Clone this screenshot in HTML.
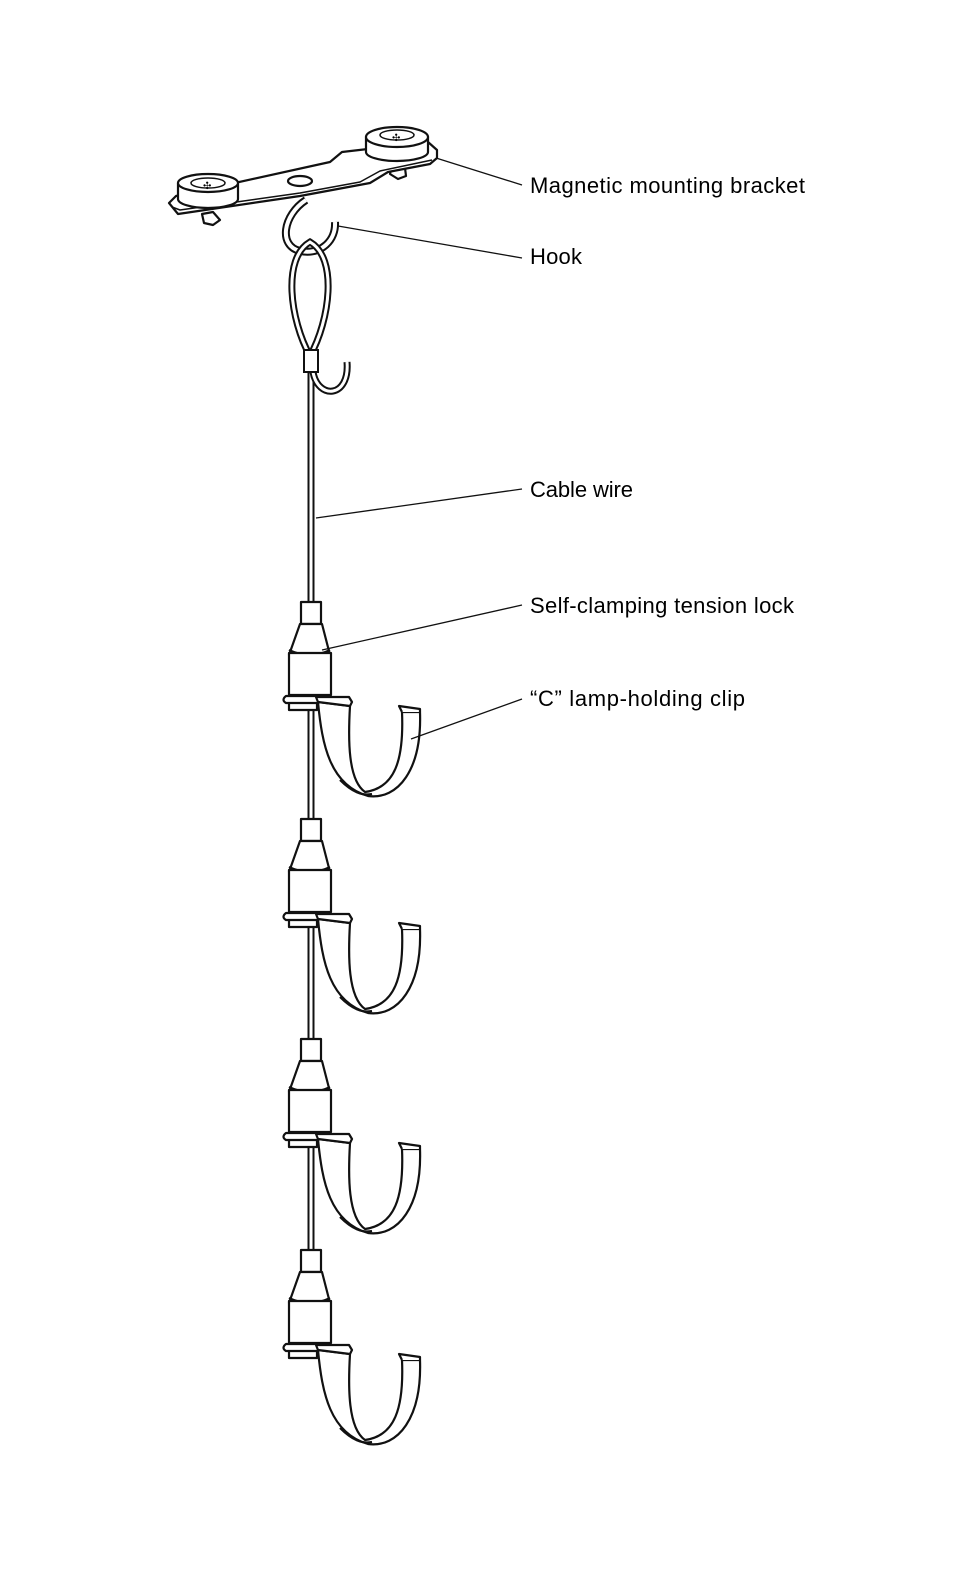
<!DOCTYPE html>
<html><head><meta charset="utf-8"><style>
html,body{margin:0;padding:0;background:#fff}
svg{display:block}
text{font-family:"Liberation Sans",sans-serif;font-size:22px;fill:#000}
</style></head><body>
<svg width="976" height="1569" viewBox="0 0 976 1569" xmlns="http://www.w3.org/2000/svg">
<defs>
<g id="lock" stroke="#111" stroke-width="2.2" fill="#fff" stroke-linejoin="round">
  <rect x="301" y="602" width="20" height="22"/>
  <path d="M300,624 L322,624 L330,655 L289,655 Z"/>
  <path d="M289,650 Q310,660 330,650" fill="none"/>
  <rect x="289" y="653" width="42" height="42"/>
  <rect x="289" y="700" width="28" height="10"/>
  <path d="M286,696 L320,696 L320,703 L286,703 Q281,700 286,696 Z"/>
  <path d="M318,702 C322,745 330,785 368,796 C398,800 422,770 420,712 L402,712 C404,760 395,788 365,792 C348,780 348,740 350,706 Z"/>
  <path d="M318,702 L316,697 L349,697 L352,702 L350,706 Z"/>
  <path d="M402,712 L399,706 L420,709 L420,712" />
  <path d="M340,780 C352,792 362,796 372,794" fill="none"/>
</g>
</defs>

<!-- cable -->
<line x1="311" y1="360" x2="311" y2="1350" stroke="#111" stroke-width="7"/>
<line x1="311" y1="360" x2="311" y2="1350" stroke="#fff" stroke-width="3"/>

<use href="#lock"/>
<use href="#lock" transform="translate(0,217)"/>
<use href="#lock" transform="translate(0,437)"/>
<use href="#lock" transform="translate(0,648)"/>

<!-- bracket -->
<g stroke="#111" stroke-width="2.2" fill="#fff" stroke-linejoin="round">
  <path d="M213,212 L220,220 L213,225 L204,223 L202,214 Z"/>
  <path d="M392,165 L405,168 L406,176 L398,179 L390,174 Z"/>
  <path d="M169,203 L176,196 L330,162 L342,152 L428,142 L437,150 L437,158 L430,164 L388,172 L370,183 L300,196 L178,214 Z"/>
  <path d="M172,207 L180,210 L300,193 L360,182 L380,171 L432,160" fill="none" stroke-width="1.5"/>
  <ellipse cx="300" cy="181" rx="12" ry="5"/>
  <path d="M178,183 L178,199 A30,9 0 0 0 238,199 L238,183 Z"/>
  <ellipse cx="208" cy="183" rx="30" ry="9"/>
  <ellipse cx="208" cy="183" rx="17" ry="5" stroke-width="1.5"/>
  <path d="M366,137 L366,152 A31,9 0 0 0 428,152 L428,137 Z"/>
  <ellipse cx="397" cy="137" rx="31" ry="10"/>
  <ellipse cx="397" cy="135" rx="17" ry="5" stroke-width="1.5"/>
</g>
<text x="203" y="189" style="font-size:10px">✣</text>
<text x="392" y="141" style="font-size:10px">✣</text>

<!-- hook -->
<path d="M306,200 C283,215 278,246 300,251 C322,255 336,240 335,222" fill="none" stroke="#111" stroke-width="8"/>
<path d="M306,200 C283,215 278,246 300,251 C322,255 336,240 335,222" fill="none" stroke="#fff" stroke-width="4"/>
<!-- loop -->
<path d="M310,356 C290,320 282,258 310,242 C338,258 330,320 310,356" fill="none" stroke="#111" stroke-width="7"/>
<path d="M310,356 C290,320 282,258 310,242 C338,258 330,320 310,356" fill="none" stroke="#fff" stroke-width="3"/>
<!-- J hook -->
<path d="M313,372 C318,400 350,398 347,362" fill="none" stroke="#111" stroke-width="7"/>
<path d="M313,372 C318,400 350,398 347,362" fill="none" stroke="#fff" stroke-width="3"/>
<rect x="304" y="350" width="14" height="22" fill="#fff" stroke="#111" stroke-width="2"/>

<!-- leaders -->
<g stroke="#111" stroke-width="1.3">
  <line x1="436" y1="158" x2="522" y2="185"/>
  <line x1="338" y1="226" x2="522" y2="258"/>
  <line x1="316" y1="518" x2="522" y2="489"/>
  <line x1="322" y1="650" x2="522" y2="605"/>
  <line x1="411" y1="739" x2="522" y2="699"/>
</g>

<text x="530" y="193" textLength="275">Magnetic mounting bracket</text>
<text x="530" y="264" textLength="52">Hook</text>
<text x="530" y="497" textLength="103">Cable wire</text>
<text x="530" y="613" textLength="264">Self-clamping tension lock</text>
<text x="530" y="706" textLength="215">“C” lamp-holding clip</text>
</svg>
</body></html>
